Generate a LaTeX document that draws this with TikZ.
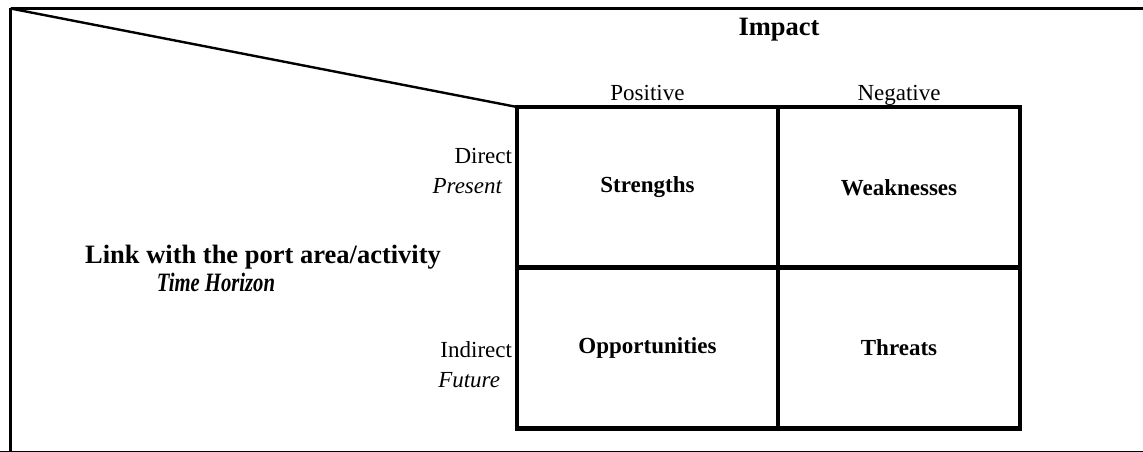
\documentclass[tikz,border=0pt]{standalone}
\usepackage{fontspec}
\setmainfont{Liberation Serif}
\begin{document}
\begin{tikzpicture}[x=1pt,y=-1pt,
  lbl/.style={inner sep=0pt, outer sep=0pt, font=\fontsize{23}{28}\selectfont},
  head/.style={inner sep=0pt, outer sep=0pt, font=\fontsize{26.5}{32}\selectfont\bfseries},
  cell/.style={draw=black, line width=4.3pt, inner sep=0pt, outer sep=0pt,
    minimum height=161pt, font=\fontsize{23}{28}\selectfont\bfseries},
  frame/.style={line width=3.8pt},
  diag/.style={line width=2.4pt}]
\useasboundingbox (0,0) rectangle (1143,452);
\clip (0,0) rectangle (1143,452);
% outer frame
\coordinate (fc) at (10.5,8.5);
\draw[frame] (fc) -- (10.5,470) (fc) -- (1170,8.5);
\draw[frame] (0,452.5) -- (1170,452.5);
% cells
\node[cell, minimum width=261pt] (S) at (647.5,187.5) {Strengths};
\node[cell, minimum width=242pt] (W) at (899,187.5) {Weaknesses};
\node[cell, minimum width=261pt] (O) at (647.5,348) {Opportunities};
\node[cell, minimum width=242pt] (T) at (899,348) {Threats};
% diagonal
\draw[diag] (fc) -- (S.north west);
% headings
\node[head, anchor=base] (imp) at (779,36) {Impact};
\node[lbl, anchor=base] (pos) at (647.5,100) {Positive};
\node[lbl, anchor=base] (neg) at (899,100) {Negative};
\node[lbl, anchor=base east] (dir) at (512,163) {Direct};
\node[lbl, anchor=base east] (pre) at (502,193) {\itshape Present};
\node[lbl, anchor=base east] (ind) at (512,357) {Indirect};
\node[lbl, anchor=base east] (fut) at (500,387) {\itshape Future};
\node[head, anchor=base] (link) at (263,263) {Link with the port area/activity};
\node[head, anchor=base, xscale=0.78, transform shape] (hor) at (216,291) {\itshape Time Horizon};
\end{tikzpicture}
\end{document}
